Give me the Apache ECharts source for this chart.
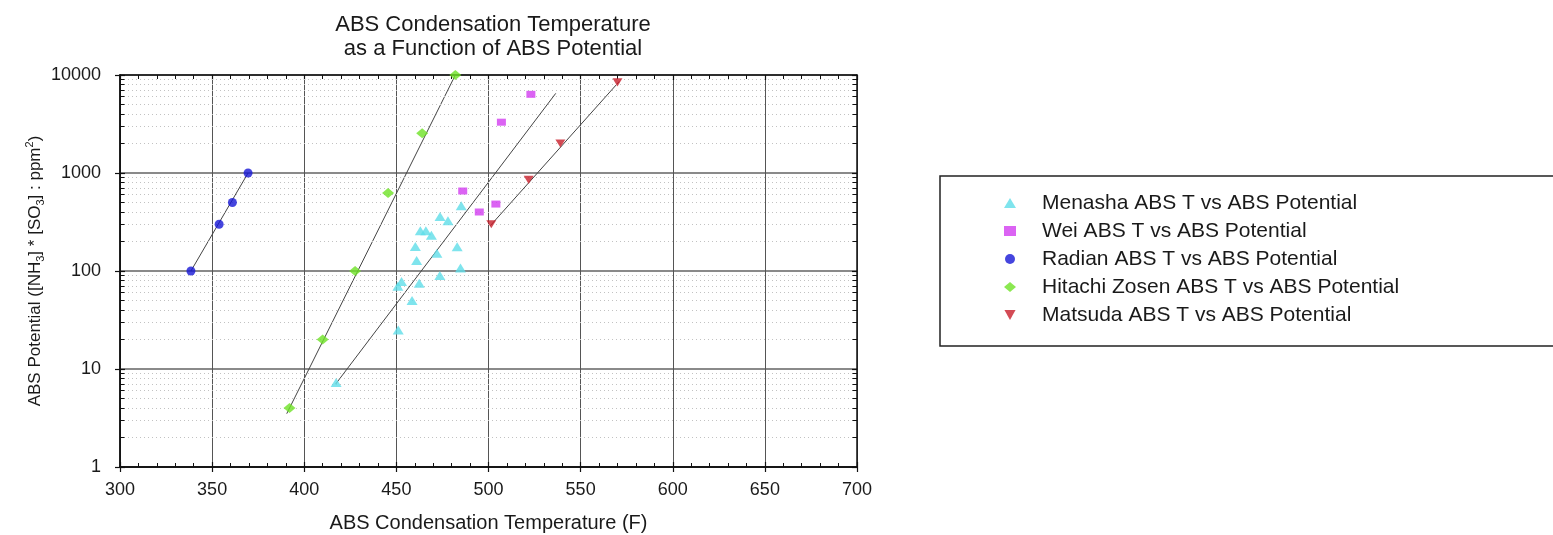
<!DOCTYPE html>
<html>
<head>
<meta charset="utf-8">
<script src="https://cdn.jsdelivr.net/npm/echarts@6/dist/echarts.min.js"></script>
<style>
html,body{margin:0;padding:0;background:#ffffff;}
#chart{width:1553px;height:535px;}
</style>
</head>
<body>
<div id="chart"></div>
<script>
// ---------- data ----------
const chartTitle = 'ABS Condensation Temperature\nas a Function of ABS Potential';
const xAxisTitle = 'ABS Condensation Temperature (F)';
const seriesNames = [
  'Menasha ABS T vs ABS Potential',
  'Wei ABS T vs ABS Potential',
  'Radian ABS T vs ABS Potential',
  'Hitachi Zosen ABS T vs ABS Potential',
  'Matsuda ABS T vs ABS Potential'
];
// [temperature F, ABS potential ppm^2]
const menashaData = [
  [417.3, 7.3], [451, 25], [458.5, 50], [450.8, 70], [452.8, 78], [462.4, 75],
  [473.6, 90], [484.8, 107], [461, 128], [472, 152], [460.3, 178], [483, 177],
  [463, 258], [466, 258], [469, 232], [473.7, 360], [478, 326], [485.2, 463]
];
const weiData = [
  [486, 655], [495, 400], [504, 482], [507, 3300], [523, 6350]
];
const radianData = [
  [338.5, 100], [353.8, 300], [361, 500], [369.5, 1000]
];
const hitachiData = [
  [392, 4], [410, 20], [427.6, 100], [445.5, 625], [464, 2550], [482, 10000]
];
const matsudaData = [
  [501.5, 300], [521.8, 850], [539, 2000], [570, 8400]
];
// fitted trend lines (end points)
const radianFit  = [[338.5, 100], [369.5, 1000]];
const hitachiFit = [[390.5, 3.5], [482, 10000]];
const menashaFit = [[417, 7.0], [536.5, 6500]];
const matsudaFit = [[501, 290], [571, 8600]];
// axes
const xMin = 300, xMax = 700, xStep = 50;
const yMin = 1, yMax = 10000;
const yDecades = [1, 10, 100, 1000];
const minorMultipliers = [2, 3, 4, 5, 6, 7, 8, 9];

// ---------- chart ----------
const FONT = "'Liberation Sans', Arial, Helvetica, sans-serif";
const TXT = '#1a1a1a';
const chart = echarts.init(document.getElementById('chart'), null, {renderer: 'canvas'});

const minorValues = [];
yDecades.forEach(d => minorMultipliers.forEach(m => minorValues.push(m * d)));

const minorGridLines = minorValues.map(v => ({yAxis: v}));
const tickLen = (xMax - xMin) * 4.5 / 737;
const minorTickSegs = [];
minorValues.forEach(v => {
  minorTickSegs.push([{coord: [xMin, v]}, {coord: [xMin + tickLen, v]}]);
  minorTickSegs.push([{coord: [xMax - tickLen, v]}, {coord: [xMax, v]}]);
});

const baseX = {
  type: 'value', min: xMin, max: xMax, interval: xStep,
  axisLine: {show: true, onZero: false, lineStyle: {color: '#111', width: 1.5}},
  splitLine: {show: false},
  axisLabel: {show: false},
  axisTick: {show: true, inside: true, length: 5, lineStyle: {color: '#111', width: 1.2}},
  minorTick: {show: true, splitNumber: 5, length: 4, lineStyle: {color: '#111', width: 1}}
};
const baseY = {
  type: 'log', logBase: 10, min: yMin, max: yMax,
  axisLine: {show: true, onZero: false, lineStyle: {color: '#111', width: 1.5}},
  splitLine: {show: false},
  axisLabel: {show: false},
  axisTick: {show: true, inside: true, length: 5, lineStyle: {color: '#111', width: 1.2}}
};

const option = {
  backgroundColor: '#ffffff',
  animation: false,
  title: {
    text: chartTitle,
    left: 488, top: 8, textAlign: 'center',
    textStyle: {fontFamily: FONT, fontSize: 22, fontWeight: 'normal', lineHeight: 24, color: TXT}
  },
  legend: {
    orient: 'vertical', left: 940, top: 176,
    data: seriesNames,
    selectedMode: false,
    itemWidth: 12, itemHeight: 10, itemGap: 6,
    symbolKeepAspect: true,
    padding: [16, 160, 20, 64],
    borderColor: '#222', borderWidth: 1.5,
    textStyle: {fontFamily: FONT, fontSize: 21, lineHeight: 22, color: TXT, padding: [0, 0, 0, 21]}
  },
  grid: {left: 120, right: 696, top: 75, bottom: 68, containLabel: false, outerBoundsMode: 'none'},
  xAxis: [
    Object.assign({}, baseX, {
      position: 'bottom',
      axisTick: {show: true, inside: false, length: 5, lineStyle: {color: '#111', width: 1.2}},
      minorTick: {show: false},
      axisLabel: {show: true, margin: 14, fontFamily: FONT, fontSize: 18, color: TXT},
      splitLine: {show: true, lineStyle: {color: '#555', width: 1}},
      name: xAxisTitle, nameLocation: 'middle', nameGap: 46,
      nameTextStyle: {fontFamily: FONT, fontSize: 20, color: TXT}
    }),
    Object.assign({}, baseX, {position: 'bottom'}),
    Object.assign({}, baseX, {position: 'top'})
  ],
  yAxis: [
    Object.assign({}, baseY, {
      position: 'left',
      axisTick: {show: true, inside: false, length: 5, lineStyle: {color: '#111', width: 1.2}},
      axisLabel: {show: true, margin: 19, fontFamily: FONT, fontSize: 18, color: TXT,
        formatter: v => String(Math.round(v))},
      splitLine: {show: true, lineStyle: {color: '#8a8a8a', width: 1.8}},
      name: '{a|ABS Potential ([NH}{s|3}{a|] * [SO}{s|3}{a|] : ppm}{p|2}{a|)}',
      nameLocation: 'middle', nameGap: 74, nameRotate: 90,
      nameTextStyle: {
        fontFamily: FONT, fontSize: 17, color: TXT,
        rich: {
          a: {fontFamily: FONT, fontSize: 17, lineHeight: 22, color: TXT},
          s: {fontFamily: FONT, fontSize: 11, lineHeight: 11, color: TXT, verticalAlign: 'bottom'},
          p: {fontFamily: FONT, fontSize: 11, lineHeight: 11, color: TXT, verticalAlign: 'top'}
        }
      }
    }),
    Object.assign({}, baseY, {position: 'left'}),
    Object.assign({}, baseY, {position: 'right'})
  ],
  series: [
    {
      type: 'line', name: 'minor-grid', data: [], silent: true, z: 1,
      markLine: {
        silent: true, symbol: ['none', 'none'], label: {show: false}, animation: false,
        emphasis: {disabled: true},
        lineStyle: {type: [1, 3], color: '#c2c2c2', width: 1},
        data: minorGridLines
      }
    },
    {
      type: 'line', name: 'minor-ticks', data: [], silent: true, z: 3,
      markLine: {
        silent: true, symbol: ['none', 'none'], label: {show: false}, animation: false,
        emphasis: {disabled: true},
        lineStyle: {type: 'solid', color: '#111', width: 1},
        data: minorTickSegs
      }
    },
    {type: 'line', name: 'radian-fit', data: radianFit, showSymbol: false, symbol: 'none', silent: true, z: 4,
      lineStyle: {color: '#444', width: 1}},
    {type: 'line', name: 'hitachi-fit', data: hitachiFit, showSymbol: false, symbol: 'none', silent: true, z: 4,
      lineStyle: {color: '#444', width: 1}},
    {type: 'line', name: 'menasha-fit', data: menashaFit, showSymbol: false, symbol: 'none', silent: true, z: 4,
      lineStyle: {color: '#444', width: 1}},
    {type: 'line', name: 'matsuda-fit', data: matsudaFit, showSymbol: false, symbol: 'none', silent: true, z: 4,
      lineStyle: {color: '#444', width: 1}},
    {type: 'scatter', name: seriesNames[0], data: menashaData, symbol: 'triangle', symbolSize: [11, 9], z: 5,
      symbolKeepAspect: true, itemStyle: {color: '#5fdde8'}},
    {type: 'scatter', name: seriesNames[1], data: weiData, symbol: 'rect', symbolSize: [9, 7], z: 5,
      symbolKeepAspect: true, itemStyle: {color: '#d23cf0'}},
    {type: 'scatter', name: seriesNames[2], data: radianData, symbol: 'circle', symbolSize: 9, z: 5,
      symbolKeepAspect: true, itemStyle: {color: '#1616d6'}},
    {type: 'scatter', name: seriesNames[3], data: hitachiData, symbol: 'diamond', symbolSize: [12, 10], z: 5,
      symbolKeepAspect: true, itemStyle: {color: '#6ee226'}},
    {type: 'scatter', name: seriesNames[4], data: matsudaData, symbol: 'path://M0,0L10,0L5,9Z', symbolSize: [10, 9], z: 5,
      symbolKeepAspect: true, itemStyle: {color: '#c81e2a'}}
  ]
};
chart.setOption(option);
</script>
</body>
</html>
